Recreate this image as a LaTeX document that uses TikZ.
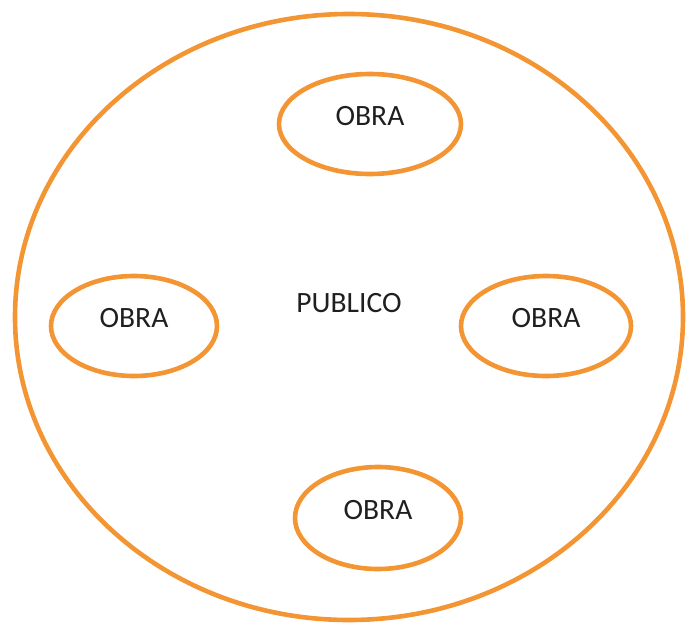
\documentclass[tikz,border=0pt]{standalone}
\usepackage{fontspec}
\setmainfont{Carlito}
\definecolor{orng}{HTML}{F39533}
\begin{document}
\begin{tikzpicture}[x=1pt,y=-1pt,
  ring/.style={draw=orng,line width=4.6pt},
  lbl/.style={font=\fontsize{29.5}{34}\selectfont,text=black!88,inner sep=0pt}]
\useasboundingbox (0,0) rectangle (696,624);
\draw[ring] (349,317) ellipse [x radius=334, y radius=303];
\node[lbl] (pub) at (349,303) {PUBLICO};
\draw[ring] (370,124) ellipse [x radius=91, y radius=50];
\node[lbl] (o1) at (370,116) {OBRA};
\draw[ring] (134,326) ellipse [x radius=83, y radius=50];
\node[lbl] (o2) at (134,318) {OBRA};
\draw[ring] (546,326) ellipse [x radius=85, y radius=50];
\node[lbl] (o3) at (546,318) {OBRA};
\draw[ring] (378,518) ellipse [x radius=83, y radius=51];
\node[lbl] (o4) at (378,510) {OBRA};
\end{tikzpicture}
\end{document}
